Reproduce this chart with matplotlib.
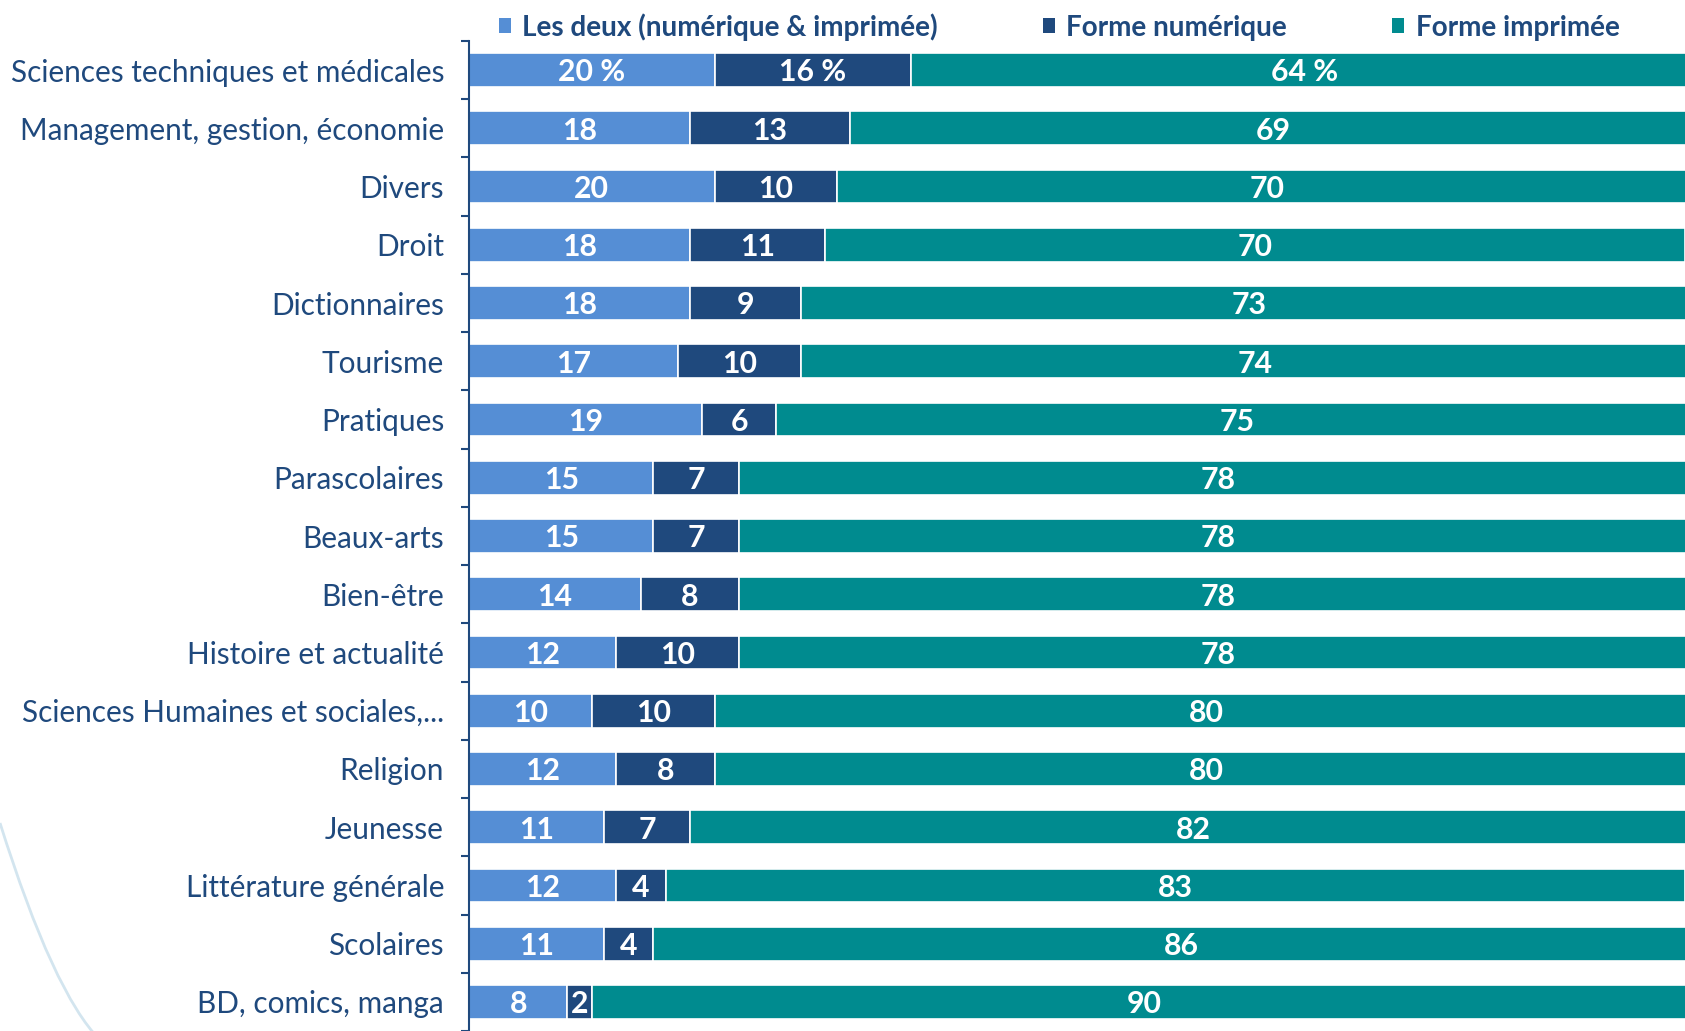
import matplotlib.pyplot as plt
from matplotlib.patches import Patch, PathPatch
from matplotlib.path import Path

categories = [
    "Sciences techniques et médicales",
    "Management, gestion, économie",
    "Divers",
    "Droit",
    "Dictionnaires",
    "Tourisme",
    "Pratiques",
    "Parascolaires",
    "Beaux-arts",
    "Bien-être",
    "Histoire et actualité",
    "Sciences Humaines et sociales,...",
    "Religion",
    "Jeunesse",
    "Littérature générale",
    "Scolaires",
    "BD, comics, manga",
]
les_deux = [20, 18, 20, 18, 18, 17, 19, 15, 15, 14, 12, 10, 12, 11, 12, 11, 8]
numerique = [16, 13, 10, 11, 9, 10, 6, 7, 7, 8, 10, 10, 8, 7, 4, 4, 2]
imprimee = [64, 69, 70, 70, 73, 74, 75, 78, 78, 78, 78, 80, 80, 82, 83, 86, 90]
series_names = ["Les deux (numérique & imprimée)", "Forme numérique", "Forme imprimée"]

colors = ["#558ED5", "#1F497D", "#008B8F"]
text_col = "#1F497D"

plt.rcParams['font.family'] = ['Lato', 'DejaVu Sans']

fig = plt.figure(figsize=(16.85, 10.31), dpi=100)
ax = fig.add_axes([469 / 1685, 0, 1 - 469 / 1685, 1 - 41 / 1031])

y = list(range(len(categories)))
left = [0] * len(categories)
for i, vals in enumerate([les_deux, numerique, imprimee]):
    ax.barh(y, vals, left=left, height=0.58, color=colors[i], edgecolor="white",
            linewidth=1.2, label=series_names[i])
    for j, v in enumerate(vals):
        txt = f"{v} %" if j == 0 else f"{v}"
        ax.text(left[j] + v / 2, j + 0.04, txt, ha="center", va="center", color="white",
                fontsize=21.8, fontweight="bold")
    left = [a + b for a, b in zip(left, vals)]

ax.set_xlim(0, 99)
ax.set_ylim(16.3, -0.5)
ax.set_xticks([])
ax.set_yticks(y)
ax.set_yticklabels(categories, fontsize=21.4, color=text_col)
ax.set_yticks([k - 0.5 for k in range(len(categories) + 1)], minor=True)
ax.tick_params(axis="y", which="major", length=0, pad=18)
ax.tick_params(axis="y", which="minor", length=6, width=1.5, color=text_col)
for s in ["top", "right", "bottom"]:
    ax.spines[s].set_visible(False)
ax.spines["left"].set_color(text_col)
ax.spines["left"].set_linewidth(1.5)

handles = [Patch(facecolor=c) for c in colors]
leg = fig.legend(handles, series_names, loc="center", bbox_to_anchor=(0.6285, 1 - 27 / 1031),
                 ncol=3, frameon=False, handlelength=0.45, handleheight=0.45,
                 handletextpad=0.4, columnspacing=3.75,
                 prop={"size": 20.1, "weight": "bold"})
for t in leg.get_texts():
    t.set_color(text_col)

# decorative arc bottom-left
W, H = 1685, 1031
pts = [(0, 823), (53.5, 993.5), (100, 1040)]
path = Path([(px / W, 1 - py / H) for px, py in pts], [Path.MOVETO, Path.CURVE3, Path.CURVE3])
fig.patches.append(PathPatch(path, transform=fig.transFigure, facecolor="none",
                             edgecolor="#D3E5EF", linewidth=2))

fig.savefig("out.png", dpi=100)
